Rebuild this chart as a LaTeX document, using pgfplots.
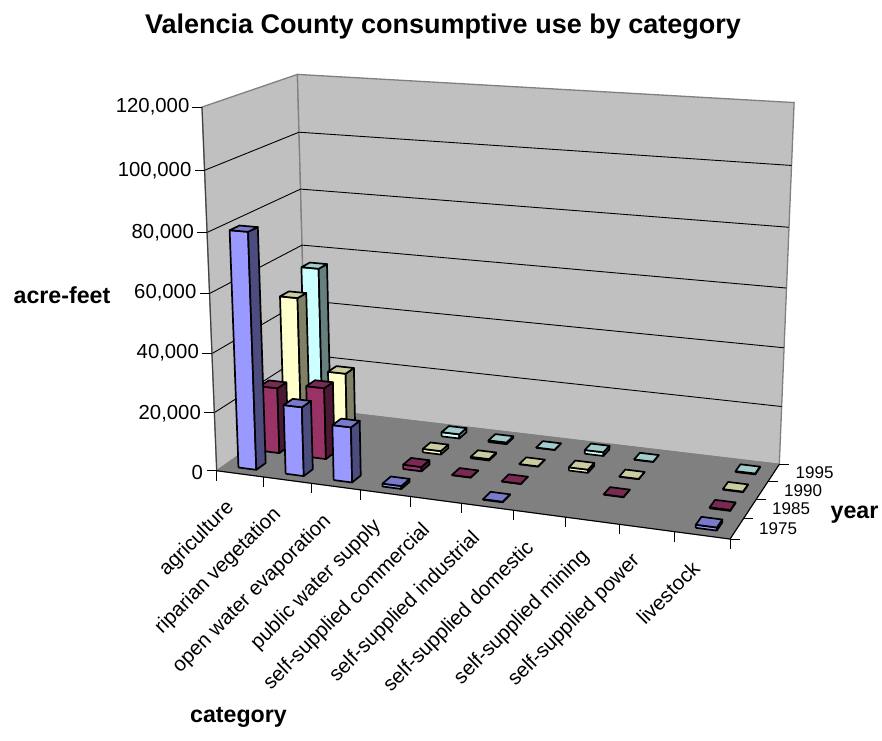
\documentclass[border=0pt]{standalone}
\usepackage{pgfplots}
\usepackage{pgfplotstable}
\usepackage{fontspec}
\setmainfont{Liberation Sans}
\pgfplotsset{compat=1.18}
\definecolor{serA}{HTML}{9999FF}
\definecolor{serB}{HTML}{993366}
\definecolor{serC}{HTML}{FFFFCC}
\definecolor{serD}{HTML}{CCFFFF}
\definecolor{wall}{HTML}{C0C0C0}
\definecolor{flr}{HTML}{808080}
% values: category index, year index (0=1975,1=1985,2=1990,3=1995), acre-feet
\pgfplotstableread{
cat yr val
0 3 55400
3 3 1500
4 3 600
5 3 100
6 3 1300
7 3 100
9 3 300
0 2 49400
1 2 24600
3 2 1200
4 2 500
5 2 100
6 2 1100
7 2 100
9 2 200
0 1 22800
1 1 24700
3 1 1500
4 1 100
5 1 100
7 1 100
9 1 300
0 0 80000
1 0 23500
2 0 18700
3 0 1000
5 0 200
9 0 1000
}\usedata
\pgfplotstableread{
a b c
0 0 0
1 0 0
1 0 1
0 0 1
0 0 0
}\fFront
\pgfplotstableread{
a b c
1 0 0
1 1 0
1 1 1
1 0 1
1 0 0
}\fRight
\pgfplotstableread{
a b c
0 0 1
1 0 1
1 1 1
0 1 1
0 0 1
}\fTop
\pgfplotstableread{
t s
0 0
1 1
}\tT
\newcommand\oneface[5]{% i j val table colour
 \addplot[draw=black,line width=1.7pt,line join=round,fill=#5] table[
  x expr={PX((#1+0.31+\thisrow{a}*0.38)/10,((#2+0.5)/4-0.05+\thisrow{b}*0.1),\thisrow{c}*#3/120000)},
  y expr={PY((#1+0.31+\thisrow{a}*0.38)/10,((#2+0.5)/4-0.05+\thisrow{b}*0.1),\thisrow{c}*#3/120000)}] #4;}
\newcommand\xdbar[4]{%
 \oneface{#1}{#2}{#3}{\fFront}{ser#4}
 \oneface{#1}{#2}{#3}{\fRight}{ser#4!50!black}
 \oneface{#1}{#2}{#3}{\fTop}{ser#4!80!black}}
\newcommand\seg[9]{% style, u1 v1 w1, u2 v2 w2, dx dy
 \addplot[#1] table[
  x expr={PX(#2+\thisrow{t}*(#5-#2),#3+\thisrow{t}*(#6-#3),(#4+\thisrow{t}*(#7-#4))/120000)+\thisrow{t}*#8},
  y expr={PY(#2+\thisrow{t}*(#5-#2),#3+\thisrow{t}*(#6-#3),(#4+\thisrow{t}*(#7-#4))/120000)+\thisrow{t}*#9}] \tT;}
\pgfkeys{/pgfplots/table/proj/.style={
  x expr={PX(\thisrow{u},\thisrow{v},\thisrow{w}/120000)},
  y expr={PY(\thisrow{u},\thisrow{v},\thisrow{w}/120000)}}}
\begin{document}
\begin{tikzpicture}[
 declare function={
  PD(\u,\v,\w)=-0.08908*\u+0.09495*\v+1-0.05*\w;
  PX(\u,\v,\w)=(448.27*\u+118.9*\v+216.7-24.8*\w)/PD(\u,\v,\w);
  PY(\u,\v,\w)=(20.29*\u-23.96*\v+470.7-369*\w)/PD(\u,\v,\w);
 }]
\path[use as bounding box] (0,0) rectangle (882pt,740pt);
\begin{axis}[at={(0,0)},anchor=south west,scale only axis,width=882pt,height=740pt,
 xmin=0,xmax=882,ymin=0,ymax=740,y dir=reverse,hide axis,clip=false,no markers,
 every axis plot/.append style={forget plot}]
% walls and floor
\addplot[fill=wall,draw=flr,line width=1.3pt] table[proj] {
u v w
0 0 0
0 1 0
0 1 120000
0 0 120000
0 0 0
};
\addplot[fill=wall,draw=flr,line width=1.3pt] table[proj] {
u v w
0 1 0
1 1 0
1 1 120000
0 1 120000
0 1 0
};
\addplot[fill=flr,draw=flr,line width=1pt] table[proj] {
u v w
0 0 0
1 0 0
1 1 0
0 1 0
0 0 0
};
% gridlines
\pgfplotsforeachungrouped \g in {20000,40000,60000,80000,100000}{
 \edef\temp{\noexpand\seg{black,line width=0.9pt}{0}{0}{\g}{0}{1}{\g}{0}{0}
  \noexpand\seg{black,line width=0.9pt}{0}{1}{\g}{1}{1}{\g}{0}{0}}\temp}
% axis lines
\seg{black!75,line width=1.1pt}{0}{0}{0}{0}{0}{120000}{0}{0}
\seg{black,line width=1.1pt}{0}{0}{0}{1}{0}{0}{0}{0}
\seg{black,line width=1.1pt}{1}{0}{0}{1}{1}{0}{0}{0}
% ticks
\pgfplotsforeachungrouped \g in {0,20000,40000,60000,80000,100000,120000}{
 \edef\temp{\noexpand\seg{black,line width=1pt}{0}{0}{\g}{0}{0}{\g}{-10}{0}}\temp}
\pgfplotsforeachungrouped \g in {0,0.1,0.2,0.3,0.4,0.5,0.6,0.7,0.8,0.9,1}{
 \edef\temp{\noexpand\seg{black,line width=1pt}{\g}{0}{0}{\g}{0}{0}{0}{10}}\temp}
\pgfplotsforeachungrouped \g in {0,0.25,0.5,0.75,1}{
 \edef\temp{\noexpand\seg{black,line width=1pt}{1}{\g}{0}{1}{\g}{0}{10}{0}}\temp}
% bars
\pgfplotstablegetrowsof{\usedata}
\pgfmathtruncatemacro\lastrow{\pgfplotsretval-1}
\pgfplotsforeachungrouped \r in {0,...,\lastrow}{
 \pgfplotstablegetelem{\r}{cat}\of\usedata \edef\cc{\pgfplotsretval}
 \pgfplotstablegetelem{\r}{yr}\of\usedata \edef\yy{\pgfplotsretval}
 \pgfplotstablegetelem{\r}{val}\of\usedata \edef\vv{\pgfplotsretval}
 \edef\temp{\noexpand\xdbar{\cc}{\yy}{\vv}{\ifcase\yy A\or B\or C\or D\fi}}
 \temp
}
% texts
\node[font=\fontsize{27}{32}\selectfont\bfseries] at (axis cs:443,27) {Valencia County consumptive use by category};
\tikzset{vl/.style={anchor=east,inner sep=0pt,font=\fontsize{20.3}{24}\selectfont}}
\node[vl] at (axis cs:189.5,107) {120,000};
\node[vl] at (axis cs:191.5,171) {100,000};
\node[vl] at (axis cs:194,233) {80,000};
\node[vl] at (axis cs:196.5,293) {60,000};
\node[vl] at (axis cs:199,353) {40,000};
\node[vl] at (axis cs:201,414) {20,000};
\node[vl] at (axis cs:203,472) {0};
\tikzset{yl/.style={anchor=west,inner sep=0pt,font=\fontsize{17}{20}\selectfont}}
\node[yl] at (axis cs:795.5,473) {1995};
\node[yl] at (axis cs:784,491) {1990};
\node[yl] at (axis cs:772,509) {1985};
\node[yl] at (axis cs:759,529) {1975};
\tikzset{cl/.style={anchor=east,inner sep=0pt,rotate=45,font=\fontsize{20.5}{24}\selectfont}}
\node[cl] at (axis cs:231,505) {agriculture};
\node[cl] at (axis cs:278,511) {riparian vegetation};
\node[cl] at (axis cs:328,518) {open water evaporation};
\node[cl] at (axis cs:378,523) {public water supply};
\node[cl] at (axis cs:427,527) {self-supplied commercial};
\node[cl] at (axis cs:477,535) {self-supplied industrial};
\node[cl] at (axis cs:531,545) {self-supplied domestic};
\node[cl] at (axis cs:586,553) {self-supplied mining};
\node[cl] at (axis cs:637,558) {self-supplied power};
\node[cl] at (axis cs:696,565) {livestock};
\tikzset{tl/.style={font=\fontsize{23.2}{28}\selectfont\bfseries}}
\node[tl] at (axis cs:62,295) {acre-feet};
\node[tl] at (axis cs:854.5,515) {year};
\node[tl] at (axis cs:238.5,717) {category};
\end{axis}
\end{tikzpicture}
\end{document}
